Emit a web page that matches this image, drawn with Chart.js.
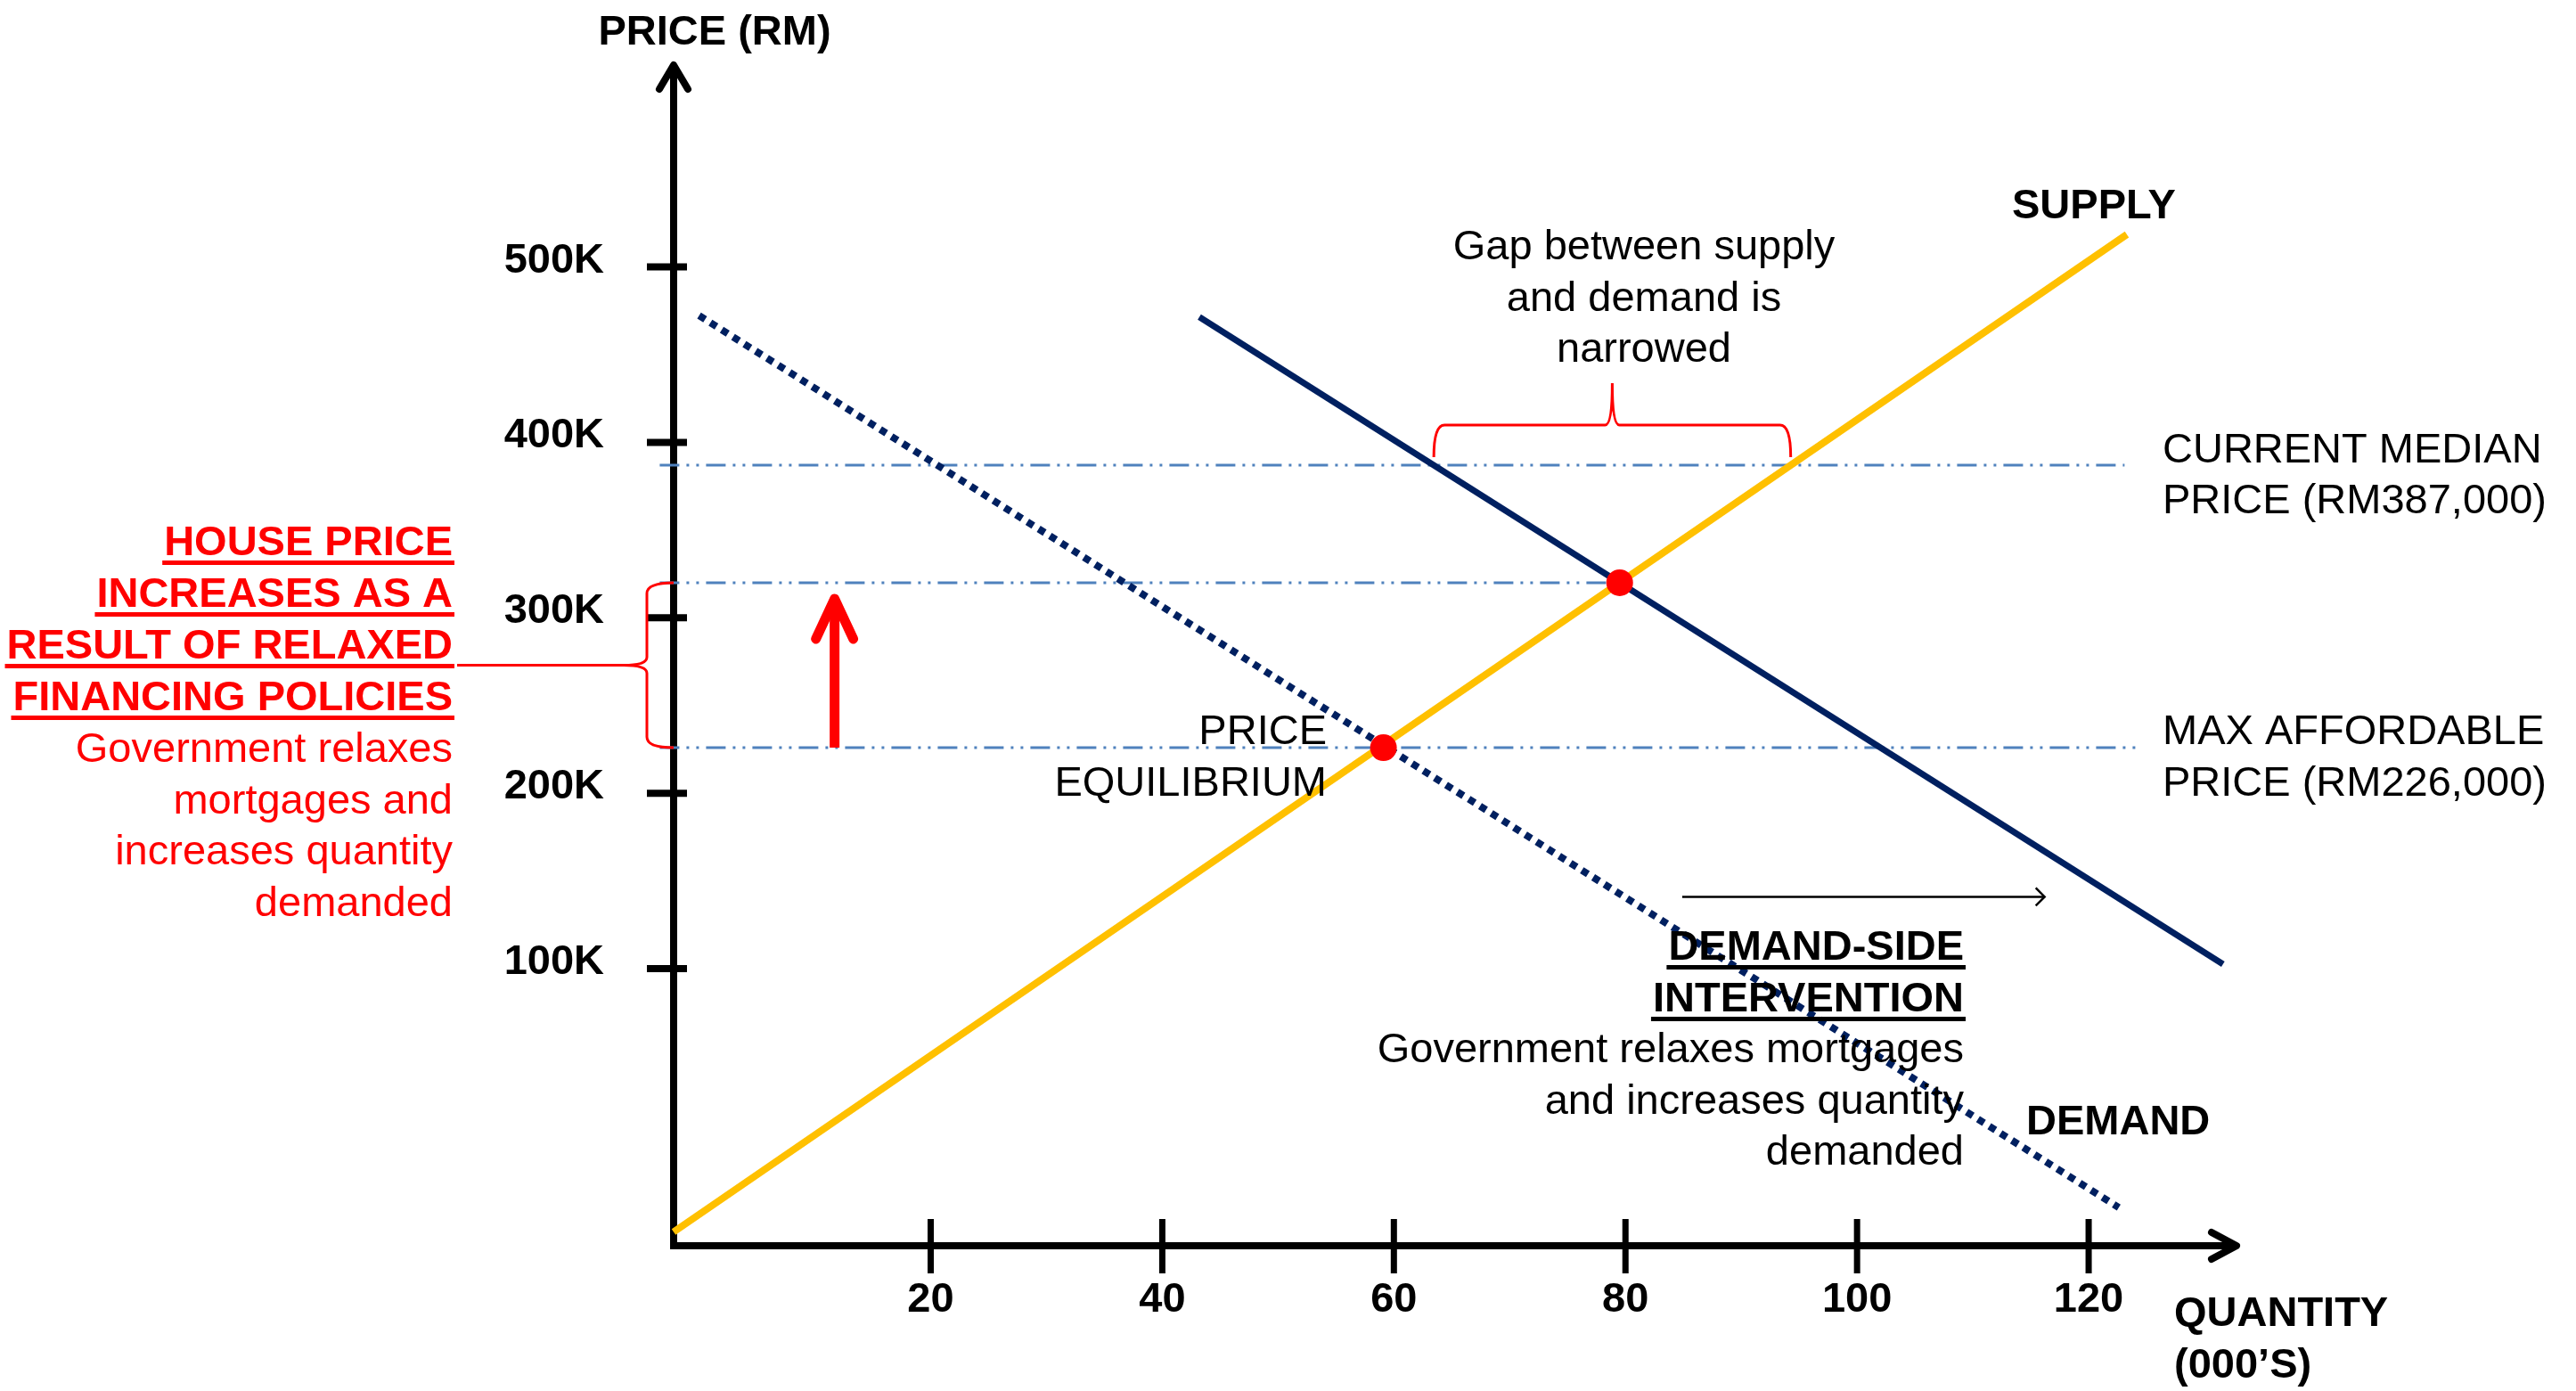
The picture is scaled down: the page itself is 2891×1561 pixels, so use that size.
<!DOCTYPE html>
<html>
<head>
<meta charset="utf-8">
<script src="https://cdn.jsdelivr.net/npm/chart.js@4/dist/chart.umd.min.js"></script>
<style>
  html, body { margin: 0; padding: 0; background: #fff; overflow: hidden; }
  canvas { display: block; }
</style>
</head>
<body>
<canvas id="chart" width="2891" height="1561"></canvas>
<script>
// ---- Axis ticks ----
const quantityTicks = [20, 40, 60, 80, 100, 120];               // 000's of units
const priceTicks = [100000, 200000, 300000, 400000, 500000];    // RM

// ---- Price levels (RM) ----
const currentMedianPrice = 387000;
const maxAffordablePrice = 226000;
const newEquilibriumPrice = 320000;

// ---- Curves as [quantity, price] end points ----
const supplyQty = [-2.2, 123.3];
const supplyPrice = [-50000, 518500];
const demandQty = [0, 122.6];
const demandPrice = [472300, -36100];
const newDemandQty = [43.2, 131.6];
const newDemandPrice = [471500, 102600];

// ---- Equilibrium points (before / after relaxed financing) ----
const equilibriumQty = [59.1, 79.5];
const equilibriumPrice = [maxAffordablePrice, newEquilibriumPrice];

// ---- Extent of the dash-dot price lines along the quantity axis ----
const medianLineQty = [-3.4, 123.1];
const affordableLineQty = [-3.4, 124.2];
const newPriceLineQty = [-3.4, 79.5];

// ---- Axis ranges ----
const quantityMin = -2.2, quantityMax = 132;
const priceMin = -57900, priceMax = 616600;

const FONT = '"Liberation Sans", Arial, sans-serif';
const NAVY = '#002060';
const GOLD = '#FFC000';
const STEEL = '#4F81BD';
const RED = '#FF0000';

const pts = (qs, ps) => qs.map((q, i) => ({ x: q, y: ps[i] }));
const flat = (qs, p) => qs.map(q => ({ x: q, y: p }));

const DASH_DOT = [22, 8, 3, 8, 3, 8];

const datasets = [
  { label: 'Equilibrium', data: pts(equilibriumQty, equilibriumPrice), showLine: false,
    pointRadius: 15, pointBackgroundColor: RED, pointBorderWidth: 0, order: 0 },
  { label: 'Supply', data: pts(supplyQty, supplyPrice), showLine: true, borderColor: GOLD,
    borderWidth: 8, pointRadius: 0, order: 1, clip: false },
  { label: 'Demand (after)', data: pts(newDemandQty, newDemandPrice), showLine: true, borderColor: NAVY,
    borderWidth: 7, pointRadius: 0, order: 2, clip: false },
  { label: 'Demand', data: pts(demandQty, demandPrice), showLine: true, borderColor: NAVY,
    borderWidth: 8, borderDash: [8, 7], borderCapStyle: 'butt', pointRadius: 0, order: 3, clip: false },
  { label: 'Current median price', data: flat(medianLineQty, currentMedianPrice), showLine: true,
    borderColor: STEEL, borderWidth: 3, borderDash: DASH_DOT, pointRadius: 0, order: 4, clip: false },
  { label: 'Max affordable price', data: flat(affordableLineQty, maxAffordablePrice), showLine: true,
    borderColor: STEEL, borderWidth: 3, borderDash: DASH_DOT, pointRadius: 0, order: 5, clip: false },
  { label: 'New equilibrium price', data: flat(newPriceLineQty, newEquilibriumPrice), showLine: true,
    borderColor: STEEL, borderWidth: 3, borderDash: DASH_DOT, pointRadius: 0, order: 6, clip: false }
];

// Quantity at which a two-point line reaches a given price
const qAtPrice = (qs, ps, p) => qs[0] + (p - ps[0]) * (qs[1] - qs[0]) / (ps[1] - ps[0]);

function drawText(ctx, s, x, y, o = {}) {
  ctx.font = (o.bold ? 'bold ' : '') + '47px ' + FONT;
  ctx.fillStyle = o.color || '#000';
  ctx.textAlign = o.align || 'left';
  ctx.textBaseline = 'alphabetic';
  ctx.fillText(s, x, y);
  if (o.underline) {
    const w = ctx.measureText(s).width;
    let x0 = x;
    if (ctx.textAlign === 'right') x0 = x - w;
    else if (ctx.textAlign === 'center') x0 = x - w / 2;
    ctx.fillRect(x0 - 2, y + 6, w + 4, 5);
  }
}

function chevron(ctx, tipX, tipY, ax, ay, bx, by) {
  ctx.beginPath();
  ctx.moveTo(ax, ay);
  ctx.lineTo(tipX, tipY);
  ctx.lineTo(bx, by);
  ctx.stroke();
}

const axesPlugin = {
  id: 'axesPlugin',
  beforeDatasetsDraw(chart) {
    const { ctx, chartArea: ca, scales: { x, y } } = chart;
    const x0 = ca.left, y0 = ca.bottom;
    ctx.save();
    ctx.strokeStyle = '#000';
    ctx.lineCap = 'butt';
    ctx.lineWidth = 8;
    ctx.beginPath(); ctx.moveTo(x0, y0 + 4); ctx.lineTo(x0, ca.top + 6); ctx.stroke();
    ctx.beginPath(); ctx.moveTo(x0 - 4, y0); ctx.lineTo(ca.right + 8, y0); ctx.stroke();
    ctx.lineCap = 'round'; ctx.lineJoin = 'round';
    chevron(ctx, x0, ca.top + 3, x0 - 16, ca.top + 30, x0 + 16, ca.top + 30);
    chevron(ctx, ca.right + 10, y0, ca.right - 18, y0 - 15, ca.right - 18, y0 + 15);
    ctx.lineCap = 'butt';
    // tick marks straddling the axes
    priceTicks.forEach(v => {
      const py = y.getPixelForValue(v);
      ctx.beginPath(); ctx.moveTo(x0 - 30, py); ctx.lineTo(x0 + 15, py); ctx.stroke();
    });
    ctx.lineWidth = 7;
    quantityTicks.forEach(v => {
      const px = x.getPixelForValue(v);
      ctx.beginPath(); ctx.moveTo(px, y0 - 30); ctx.lineTo(px, y0 + 31); ctx.stroke();
    });
    ctx.restore();
  },
  afterDatasetsDraw(chart) {
    const { ctx, chartArea: ca, scales: { x, y } } = chart;
    ctx.save();
    ctx.strokeStyle = RED;
    ctx.lineWidth = 3;
    // brace on the price axis spanning the price rise
    const yTop = y.getPixelForValue(newEquilibriumPrice);
    const yBot = y.getPixelForValue(maxAffordablePrice);
    const yMid = (yTop + yBot) / 2;
    const ax = ca.left, spine = ca.left - 30, tip = ca.left - 56;
    ctx.beginPath();
    ctx.moveTo(ax, yTop);
    ctx.quadraticCurveTo(spine, yTop, spine, yTop + 12);
    ctx.lineTo(spine, yMid - 9);
    ctx.quadraticCurveTo(spine, yMid, tip, yMid);
    ctx.quadraticCurveTo(spine, yMid, spine, yMid + 9);
    ctx.lineTo(spine, yBot - 12);
    ctx.quadraticCurveTo(spine, yBot, ax, yBot);
    ctx.stroke();
    ctx.beginPath(); ctx.moveTo(tip, yMid); ctx.lineTo(513, yMid); ctx.stroke();

    // brace over the gap between supply and demand at the median price
    const yLine = y.getPixelForValue(currentMedianPrice);
    const gx1 = x.getPixelForValue(qAtPrice(newDemandQty, newDemandPrice, currentMedianPrice));
    const gx2 = x.getPixelForValue(qAtPrice(supplyQty, supplyPrice, currentMedianPrice));
    const gm = (gx1 + gx2) / 2, gEnd = yLine - 9, gSpine = yLine - 45, gTip = yLine - 92;
    ctx.beginPath();
    ctx.moveTo(gx1, gEnd);
    ctx.quadraticCurveTo(gx1, gSpine, gx1 + 12, gSpine);
    ctx.lineTo(gm - 8, gSpine);
    ctx.quadraticCurveTo(gm, gSpine, gm, gTip);
    ctx.quadraticCurveTo(gm, gSpine, gm + 8, gSpine);
    ctx.lineTo(gx2 - 12, gSpine);
    ctx.quadraticCurveTo(gx2, gSpine, gx2, gEnd);
    ctx.stroke();

    // upward arrow: price pushed from the affordable level to the new equilibrium
    const arrowX = x.getPixelForValue(11.7);
    const arrowTop = yTop + 18;
    ctx.lineWidth = 11;
    ctx.lineCap = 'butt';
    ctx.beginPath(); ctx.moveTo(arrowX, yBot); ctx.lineTo(arrowX, arrowTop + 4); ctx.stroke();
    ctx.lineCap = 'round'; ctx.lineJoin = 'round';
    chevron(ctx, arrowX, arrowTop, arrowX - 21, arrowTop + 45, arrowX + 21, arrowTop + 45);

    // demand shift arrow
    const sy = y.getPixelForValue(141000);
    const sx1 = x.getPixelForValue(84.9), sx2 = x.getPixelForValue(116.2);
    ctx.strokeStyle = '#000';
    ctx.lineWidth = 2.5;
    ctx.lineCap = 'butt';
    ctx.beginPath(); ctx.moveTo(sx1, sy); ctx.lineTo(sx2, sy); ctx.stroke();
    ctx.lineJoin = 'miter';
    chevron(ctx, sx2, sy, sx2 - 10, sy - 10, sx2 - 10, sy + 10);
    ctx.restore();
  },
  afterDraw(chart) {
    const ctx = chart.ctx;
    ctx.save();
    drawText(ctx, 'PRICE (RM)', 802, 50, { bold: true, align: 'center' });
    drawText(ctx, 'SUPPLY', 2258, 245, { bold: true });
    drawText(ctx, 'DEMAND', 2274, 1273, { bold: true });
    drawText(ctx, 'QUANTITY', 2440, 1488, { bold: true });
    drawText(ctx, '(000\u2019S)', 2440, 1546, { bold: true });

    ['Gap between supply', 'and demand is', 'narrowed'].forEach((s, i) =>
      drawText(ctx, s, 1845, 291 + i * 57.5, { align: 'center' }));

    drawText(ctx, 'CURRENT MEDIAN', 2427, 519);
    drawText(ctx, 'PRICE (RM387,000)', 2427, 576);
    drawText(ctx, 'MAX AFFORDABLE', 2427, 835);
    drawText(ctx, 'PRICE (RM226,000)', 2427, 893);

    drawText(ctx, 'PRICE', 1489, 835, { align: 'right' });
    drawText(ctx, 'EQUILIBRIUM', 1489, 893, { align: 'right' });

    ['HOUSE PRICE', 'INCREASES AS A', 'RESULT OF RELAXED', 'FINANCING POLICIES'].forEach((s, i) =>
      drawText(ctx, s, 508, 623 + i * 58, { bold: true, underline: true, color: RED, align: 'right' }));
    ['Government relaxes', 'mortgages and', 'increases quantity', 'demanded'].forEach((s, i) =>
      drawText(ctx, s, 508, 855 + i * 57.5, { color: RED, align: 'right' }));

    drawText(ctx, 'DEMAND-SIDE', 2204, 1077, { bold: true, underline: true, align: 'right' });
    drawText(ctx, 'INTERVENTION', 2204, 1135, { bold: true, underline: true, align: 'right' });
    ['Government relaxes mortgages', 'and increases quantity', 'demanded'].forEach((s, i) =>
      drawText(ctx, s, 2204, 1192 + i * 57.5, { align: 'right' }));
    ctx.restore();
  }
};

Chart.defaults.font.family = FONT;

new Chart(document.getElementById('chart'), {
  type: 'scatter',
  data: { datasets },
  options: {
    responsive: false,
    devicePixelRatio: 1,
    animation: false,
    layout: { padding: { top: 70, right: 391, bottom: 0, left: 0 } },
    plugins: { legend: { display: false }, tooltip: { enabled: false } },
    scales: {
      x: {
        type: 'linear', min: quantityMin, max: quantityMax,
        grid: { display: false, drawTicks: false },
        border: { display: false },
        afterBuildTicks: s => { s.ticks = quantityTicks.map(v => ({ value: v })); },
        afterFit: s => { s.height = 163; s.paddingLeft = 0; s.paddingRight = 0; },
        ticks: { padding: 33, color: '#000', font: { size: 47, weight: 'bold' },
                 maxRotation: 0, callback: v => String(v) }
      },
      y: {
        type: 'linear', min: priceMin, max: priceMax,
        grid: { display: false, drawTicks: false },
        border: { display: false },
        afterBuildTicks: s => { s.ticks = priceTicks.map(v => ({ value: v })); },
        afterFit: s => { s.width = 756; s.paddingTop = 0; s.paddingBottom = 0; },
        ticks: { padding: 78, labelOffset: -7, color: '#000', font: { size: 47, weight: 'bold' },
                 callback: v => (v / 1000) + 'K' }
      }
    }
  },
  plugins: [axesPlugin]
});
</script>
</body>
</html>
